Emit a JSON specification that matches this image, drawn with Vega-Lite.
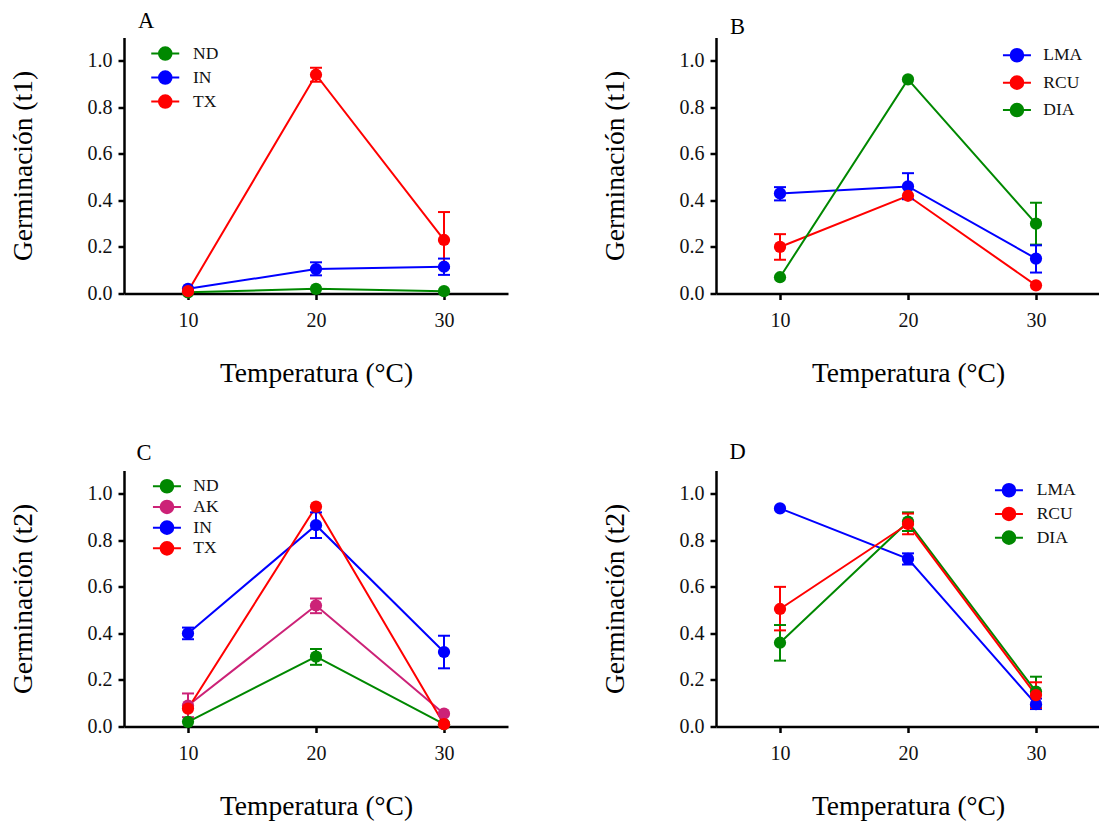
{
  "$schema": "https://vega.github.io/schema/vega-lite/v6.json",
  "background": "white",
  "padding": {"left": 9, "top": 9.5, "right": 0, "bottom": 0},
  "config": {
    "view": {"stroke": null},
    "axis": {"grid": false, "domainColor": "black", "domainWidth": 2.5, "tickColor": "black", "tickWidth": 2.5, "tickSize": 6, "labelFont": "Liberation Serif", "labelFontSize": 20, "labelColor": "#111111", "titleFont": "Liberation Serif", "titleFontSize": 27.5, "titleFontWeight": "normal", "titleColor": "black"},
    "axisY": {"titlePadding": 50, "labelPadding": 6},
    "axisX": {"titlePadding": 29, "labelPadding": 11},
    "title": {"font": "Liberation Serif", "fontSize": 22.5, "fontWeight": "normal", "anchor": "start", "frame": "group", "baseline": "alphabetic", "color": "black"},
    "legend": {"title": null, "orient": "none", "direction": "vertical", "symbolType": "M-2,0L2,0M-0.9,0A0.9,0.9 0 1,0 0.9,0A0.9,0.9 0 1,0 -0.9,0Z", "symbolSize": 196, "symbolStrokeWidth": 2, "labelFont": "Liberation Serif", "labelFontSize": 17.5, "labelColor": "#111111", "padding": 0}
  },
  "datasets": {
    "A": [
      {"T": 10, "serie": "ND", "v": 0.005, "lo": null, "hi": null},
      {"T": 20, "serie": "ND", "v": 0.02, "lo": null, "hi": null},
      {"T": 30, "serie": "ND", "v": 0.01, "lo": null, "hi": null},
      {"T": 10, "serie": "IN", "v": 0.02, "lo": null, "hi": null},
      {"T": 20, "serie": "IN", "v": 0.105, "lo": 0.078, "hi": 0.134},
      {"T": 30, "serie": "IN", "v": 0.115, "lo": 0.08, "hi": 0.15},
      {"T": 10, "serie": "TX", "v": 0.01, "lo": null, "hi": null},
      {"T": 20, "serie": "TX", "v": 0.94, "lo": 0.91, "hi": 0.97},
      {"T": 30, "serie": "TX", "v": 0.23, "lo": 0.11, "hi": 0.35}
    ],
    "B": [
      {"T": 10, "serie": "LMA", "v": 0.43, "lo": 0.40, "hi": 0.457},
      {"T": 20, "serie": "LMA", "v": 0.46, "lo": 0.405, "hi": 0.517},
      {"T": 30, "serie": "LMA", "v": 0.15, "lo": 0.09, "hi": 0.207},
      {"T": 10, "serie": "RCU", "v": 0.20, "lo": 0.145, "hi": 0.255},
      {"T": 20, "serie": "RCU", "v": 0.42, "lo": null, "hi": null},
      {"T": 30, "serie": "RCU", "v": 0.035, "lo": null, "hi": null},
      {"T": 10, "serie": "DIA", "v": 0.07, "lo": null, "hi": null},
      {"T": 20, "serie": "DIA", "v": 0.92, "lo": null, "hi": null},
      {"T": 30, "serie": "DIA", "v": 0.30, "lo": 0.21, "hi": 0.39}
    ],
    "C": [
      {"T": 10, "serie": "ND", "v": 0.02, "lo": null, "hi": null},
      {"T": 20, "serie": "ND", "v": 0.30, "lo": 0.265, "hi": 0.333},
      {"T": 30, "serie": "ND", "v": 0.01, "lo": null, "hi": null},
      {"T": 10, "serie": "AK", "v": 0.09, "lo": 0.04, "hi": 0.142},
      {"T": 20, "serie": "AK", "v": 0.52, "lo": 0.487, "hi": 0.55},
      {"T": 30, "serie": "AK", "v": 0.055, "lo": null, "hi": null},
      {"T": 10, "serie": "IN", "v": 0.40, "lo": 0.375, "hi": 0.425},
      {"T": 20, "serie": "IN", "v": 0.865, "lo": 0.81, "hi": 0.92},
      {"T": 30, "serie": "IN", "v": 0.32, "lo": 0.25, "hi": 0.39},
      {"T": 10, "serie": "TX", "v": 0.077, "lo": null, "hi": null},
      {"T": 20, "serie": "TX", "v": 0.945, "lo": null, "hi": null},
      {"T": 30, "serie": "TX", "v": 0.01, "lo": null, "hi": null}
    ],
    "D": [
      {"T": 10, "serie": "LMA", "v": 0.937, "lo": null, "hi": null},
      {"T": 20, "serie": "LMA", "v": 0.72, "lo": 0.696, "hi": 0.744},
      {"T": 30, "serie": "LMA", "v": 0.096, "lo": 0.075, "hi": 0.12},
      {"T": 10, "serie": "DIA", "v": 0.36, "lo": 0.283, "hi": 0.436},
      {"T": 20, "serie": "DIA", "v": 0.88, "lo": 0.84, "hi": 0.92},
      {"T": 30, "serie": "DIA", "v": 0.15, "lo": 0.09, "hi": 0.214},
      {"T": 10, "serie": "RCU", "v": 0.505, "lo": 0.413, "hi": 0.6},
      {"T": 20, "serie": "RCU", "v": 0.87, "lo": 0.826, "hi": 0.915},
      {"T": 30, "serie": "RCU", "v": 0.135, "lo": 0.08, "hi": 0.19}
    ]
  },
  "bounds": "flush",
  "columns": 2,
  "spacing": {"row": 177, "column": 208},
  "resolve": {"scale": {"color": "independent"}, "legend": {"color": "independent"}},
  "concat": [
    {
      "width": 384, "height": 256,
      "title": {"text": "A", "dx": 14, "offset": 4.7},
      "data": {"name": "A"},
      "encoding": {
        "x": {"field": "T", "type": "quantitative", "scale": {"domain": [5, 35], "nice": false, "zero": false}, "axis": {"values": [10, 20, 30], "title": "Temperatura (°C)"}},
        "color": {"field": "serie", "type": "nominal", "scale": {"domain": ["ND", "IN", "TX"], "range": ["#008800", "#0000ff", "#ff0000"]}, "legend": {"legendX": 32.5, "legendY": 7.3, "labelOffset": 19, "rowPadding": 2, "labelFont": "Liberation Serif"}}
      },
      "layer": [
        {"mark": {"type": "line", "strokeWidth": 2}, "encoding": {"y": {"field": "v", "type": "quantitative", "scale": {"domain": [0, 1.1], "nice": false}, "axis": {"values": [0, 0.2, 0.4, 0.6, 0.8, 1.0], "format": ".1f"}, "title": "Germinación (t1)"}}},
        {"mark": {"type": "rule", "strokeWidth": 2}, "encoding": {"y": {"field": "lo", "type": "quantitative", "title": "Germinación (t1)"}, "y2": {"field": "hi"}}},
        {"mark": {"type": "tick", "orient": "horizontal", "size": 12, "thickness": 2, "opacity": 1}, "encoding": {"y": {"field": "lo", "type": "quantitative", "title": "Germinación (t1)"}}},
        {"mark": {"type": "tick", "orient": "horizontal", "size": 12, "thickness": 2, "opacity": 1}, "encoding": {"y": {"field": "hi", "type": "quantitative", "title": "Germinación (t1)"}}},
        {"mark": {"type": "point", "filled": true, "size": 150, "opacity": 1}, "encoding": {"y": {"field": "v", "type": "quantitative", "title": "Germinación (t1)"}}}
      ]
    },
    {
      "width": 384, "height": 256,
      "title": {"text": "B", "dx": 14, "offset": -1.3},
      "data": {"name": "B"},
      "encoding": {
        "x": {"field": "T", "type": "quantitative", "scale": {"domain": [5, 35], "nice": false, "zero": false}, "axis": {"values": [10, 20, 30], "title": "Temperatura (°C)"}},
        "color": {"field": "serie", "type": "nominal", "scale": {"domain": ["LMA", "RCU", "DIA"], "range": ["#0000ff", "#ff0000", "#008800"]}, "legend": {"legendX": 292.2, "legendY": 9, "labelOffset": 17.6, "rowPadding": 5.4, "labelFont": "Liberation Serif"}}
      },
      "layer": [
        {"mark": {"type": "line", "strokeWidth": 2}, "encoding": {"y": {"field": "v", "type": "quantitative", "scale": {"domain": [0, 1.1], "nice": false}, "axis": {"values": [0, 0.2, 0.4, 0.6, 0.8, 1.0], "format": ".1f"}, "title": "Germinación (t1)"}}},
        {"mark": {"type": "rule", "strokeWidth": 2}, "encoding": {"y": {"field": "lo", "type": "quantitative", "title": "Germinación (t1)"}, "y2": {"field": "hi"}}},
        {"mark": {"type": "tick", "orient": "horizontal", "size": 12, "thickness": 2, "opacity": 1}, "encoding": {"y": {"field": "lo", "type": "quantitative", "title": "Germinación (t1)"}}},
        {"mark": {"type": "tick", "orient": "horizontal", "size": 12, "thickness": 2, "opacity": 1}, "encoding": {"y": {"field": "hi", "type": "quantitative", "title": "Germinación (t1)"}}},
        {"mark": {"type": "point", "filled": true, "size": 150, "opacity": 1}, "encoding": {"y": {"field": "v", "type": "quantitative", "title": "Germinación (t1)"}}}
      ]
    },
    {
      "width": 384, "height": 256,
      "title": {"text": "C", "dx": 12.5, "offset": 6},
      "data": {"name": "C"},
      "encoding": {
        "x": {"field": "T", "type": "quantitative", "scale": {"domain": [5, 35], "nice": false, "zero": false}, "axis": {"values": [10, 20, 30], "title": "Temperatura (°C)"}},
        "color": {"field": "serie", "type": "nominal", "scale": {"domain": ["ND", "AK", "IN", "TX"], "range": ["#008800", "#cc2277", "#0000ff", "#ff0000"]}, "legend": {"legendX": 34.2, "legendY": 7, "labelOffset": 17.6, "rowPadding": -1.3, "labelFont": "Liberation Serif"}}
      },
      "layer": [
        {"mark": {"type": "line", "strokeWidth": 2}, "encoding": {"y": {"field": "v", "type": "quantitative", "scale": {"domain": [0, 1.1], "nice": false}, "axis": {"values": [0, 0.2, 0.4, 0.6, 0.8, 1.0], "format": ".1f"}, "title": "Germinación (t2)"}}},
        {"mark": {"type": "rule", "strokeWidth": 2}, "encoding": {"y": {"field": "lo", "type": "quantitative", "title": "Germinación (t2)"}, "y2": {"field": "hi"}}},
        {"mark": {"type": "tick", "orient": "horizontal", "size": 12, "thickness": 2, "opacity": 1}, "encoding": {"y": {"field": "lo", "type": "quantitative", "title": "Germinación (t2)"}}},
        {"mark": {"type": "tick", "orient": "horizontal", "size": 12, "thickness": 2, "opacity": 1}, "encoding": {"y": {"field": "hi", "type": "quantitative", "title": "Germinación (t2)"}}},
        {"mark": {"type": "point", "filled": true, "size": 150, "opacity": 1}, "encoding": {"y": {"field": "v", "type": "quantitative", "title": "Germinación (t2)"}}}
      ]
    },
    {
      "width": 384, "height": 256,
      "title": {"text": "D", "dx": 13.6, "offset": 6.7},
      "data": {"name": "D"},
      "encoding": {
        "x": {"field": "T", "type": "quantitative", "scale": {"domain": [5, 35], "nice": false, "zero": false}, "axis": {"values": [10, 20, 30], "title": "Temperatura (°C)"}},
        "color": {"field": "serie", "type": "nominal", "scale": {"domain": ["LMA", "RCU", "DIA"], "range": ["#0000ff", "#ff0000", "#008800"]}, "legend": {"legendX": 284.2, "legendY": 11, "labelOffset": 19, "rowPadding": 1.7, "labelFont": "Liberation Serif"}}
      },
      "layer": [
        {"mark": {"type": "line", "strokeWidth": 2}, "encoding": {"y": {"field": "v", "type": "quantitative", "scale": {"domain": [0, 1.1], "nice": false}, "axis": {"values": [0, 0.2, 0.4, 0.6, 0.8, 1.0], "format": ".1f"}, "title": "Germinación (t2)"}}},
        {"mark": {"type": "rule", "strokeWidth": 2}, "encoding": {"y": {"field": "lo", "type": "quantitative", "title": "Germinación (t2)"}, "y2": {"field": "hi"}}},
        {"mark": {"type": "tick", "orient": "horizontal", "size": 12, "thickness": 2, "opacity": 1}, "encoding": {"y": {"field": "lo", "type": "quantitative", "title": "Germinación (t2)"}}},
        {"mark": {"type": "tick", "orient": "horizontal", "size": 12, "thickness": 2, "opacity": 1}, "encoding": {"y": {"field": "hi", "type": "quantitative", "title": "Germinación (t2)"}}},
        {"mark": {"type": "point", "filled": true, "size": 150, "opacity": 1}, "encoding": {"y": {"field": "v", "type": "quantitative", "title": "Germinación (t2)"}}}
      ]
    }
  ]
}
